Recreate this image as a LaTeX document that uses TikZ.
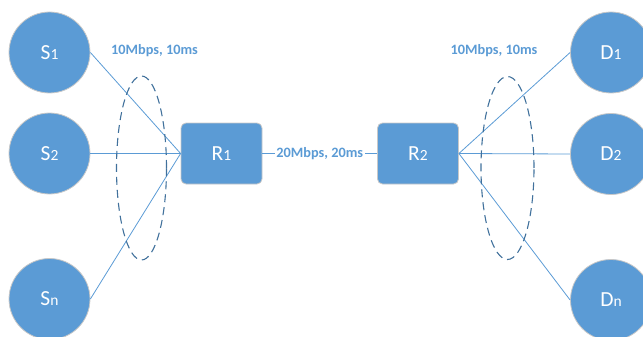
\documentclass[tikz,border=0pt]{standalone}
\usepackage{fontspec}
\setmainfont{Carlito}
\definecolor{nodeblue}{HTML}{5B9BD5}
\definecolor{edgegray}{HTML}{C8C8C8}
\definecolor{dashblue}{HTML}{41719C}
\begin{document}
\begin{tikzpicture}[x=1pt,y=-1pt,
  host/.style={circle, minimum size=81pt, inner sep=0pt, fill=nodeblue, draw=edgegray, line width=0.8pt, text=white, font=\fontsize{21.5}{22}\selectfont},
  router/.style={rounded corners=5pt, minimum width=81pt, minimum height=61pt, inner sep=0pt, fill=nodeblue, draw=edgegray, line width=0.8pt, text=white, font=\fontsize{21.5}{22}\selectfont},
  link/.style={draw=nodeblue, line width=0.8pt},
  lbl/.style={text=nodeblue, font=\bfseries\fontsize{14.3}{15}\selectfont, inner sep=1pt},
  group/.style={draw=dashblue, line width=1.1pt, dash pattern=on 8pt off 5pt}
]
\useasboundingbox (0,0) rectangle (643,337);
\newcommand{\sbs}[1]{{\fontsize{15.5}{16}\selectfont #1}}
% hosts
\node[host] (S1) at (49.5,52.5) {S\sbs{1}};
\node[host] (S2) at (49.5,153.5) {S\sbs{2}};
\node[host] (Sn) at (49.5,299) {S\sbs{n}};
\node[host] (D1) at (611,52.5) {D\sbs{1}};
\node[host] (D2) at (611,154) {D\sbs{2}};
\node[host] (Dn) at (611,300) {D\sbs{n}};
% routers
\node[router] (R1) at (221.5,153.5) {R\sbs{1}};
\node[router] (R2) at (418,153.5) {R\sbs{2}};
% links
\draw[link] (S1.east) -- (R1.west);
\draw[link] (S2.east) -- (R1.west);
\draw[link] (Sn.east) -- (R1.west);
\draw[link] (R2.east) -- (D1.west);
\draw[link] (R2.east) -- (D2.west);
\draw[link] (R2.east) -- (Dn.west);
\draw[link] (R1.east) -- node[lbl, fill=white, inner sep=1.5pt] (mid) {20Mbps, 20ms} (R2.west);
% groups
\coordinate (gl) at (141.5,168);
\coordinate (gr) at (507.5,168);
\draw[group] (gl) ellipse [x radius=25pt, y radius=92pt];
\draw[group] (gr) ellipse [x radius=26.5pt, y radius=91.5pt];
% labels
\node[lbl] (lblL) at (154.5,51) {10Mbps, 10ms};
\node[lbl] (lblR) at (494,51) {10Mbps, 10ms};
\end{tikzpicture}
\end{document}
